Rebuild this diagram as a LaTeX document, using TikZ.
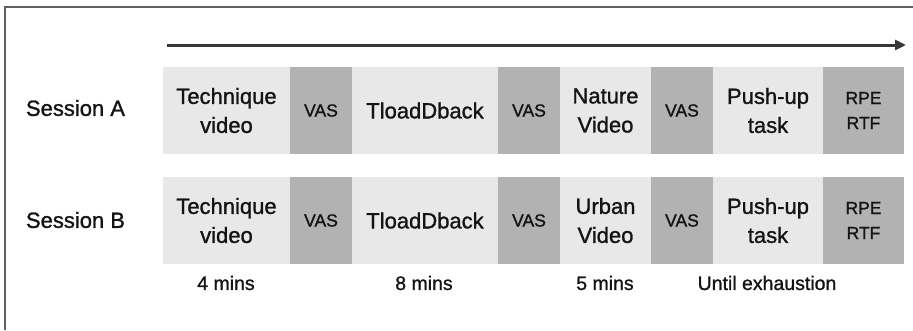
\documentclass[tikz,border=0pt]{standalone}
\usepackage{fontspec}
\setmainfont{Liberation Sans}
\newfontfamily\labelfont{Liberation Sans}[FakeBold=1.2]
\usetikzlibrary{arrows.meta}
\definecolor{boxlight}{HTML}{E8E8E8}
\definecolor{boxdark}{HTML}{B2B2B2}
\definecolor{inkdark}{HTML}{141414}
\definecolor{framegray}{HTML}{606060}
\definecolor{axisgray}{HTML}{383838}
\tikzset{
  cell/.style={inner sep=0pt, align=center, text=inkdark, minimum height=87pt},
  lightcell/.style={cell, fill=boxlight, font=\labelfont\fontsize{22}{29}\selectfont},
  darkcell/.style={cell, fill=boxdark, font=\labelfont\fontsize{17.5}{25}\selectfont},
  rowlabel/.style={inner sep=0pt, text=inkdark, font=\labelfont\fontsize{22}{26}\selectfont},
  durlabel/.style={inner sep=0pt, text=inkdark, font=\labelfont\fontsize{19.5}{22}\selectfont},
  timeline/.style={draw=axisgray, line width=3pt, -{Triangle[length=11pt,width=10pt]}},
  frameline/.style={draw=framegray, line width=1.2pt}
}
\begin{document}
\begin{tikzpicture}[x=1pt,y=-1pt]
\useasboundingbox (0,0) rectangle (913,330);
% outer frame (top and left edges)
\coordinate (fa) at (5,330);
\coordinate (fb) at (5,7);
\coordinate (fc) at (913,7);
\draw[frameline] (fa) -- (fb) -- (fc);
% time axis
\coordinate (ts) at (167,45);
\coordinate (te) at (906,45);
\draw[timeline] (ts) -- (te);
% session labels
\node[rowlabel] (sa) at (75.5,108) {Session A};
\node[rowlabel] (sb) at (75.5,220) {Session B};
% session A
\node[lightcell, minimum width=127pt] (a1) at (226.5,110.5) {Technique\\video};
\node[darkcell,  minimum width=62pt]  (a2) at (321,110.5)   {VAS};
\node[lightcell, minimum width=146pt] (a3) at (425,110.5)   {TloadDback};
\node[darkcell,  minimum width=62pt]  (a4) at (529,110.5)   {VAS};
\node[lightcell, minimum width=91pt]  (a5) at (605.5,110.5) {Nature\\Video};
\node[darkcell,  minimum width=62pt]  (a6) at (682,110.5)   {VAS};
\node[lightcell, minimum width=110pt] (a7) at (768,110.5)   {Push-up\\task};
\node[darkcell,  minimum width=81pt]  (a8) at (863.5,110.5) {RPE\\RTF};
% session B
\node[lightcell, minimum width=127pt] (b1) at (226.5,220.5) {Technique\\video};
\node[darkcell,  minimum width=62pt]  (b2) at (321,220.5)   {VAS};
\node[lightcell, minimum width=146pt] (b3) at (425,220.5)   {TloadDback};
\node[darkcell,  minimum width=62pt]  (b4) at (529,220.5)   {VAS};
\node[lightcell, minimum width=91pt]  (b5) at (605.5,220.5) {Urban\\Video};
\node[darkcell,  minimum width=62pt]  (b6) at (682,220.5)   {VAS};
\node[lightcell, minimum width=110pt] (b7) at (768,220.5)   {Push-up\\task};
\node[darkcell,  minimum width=81pt]  (b8) at (863.5,220.5) {RPE\\RTF};
% durations
\node[durlabel] (d1) at (226,283) {4 mins};
\node[durlabel] (d2) at (424,283) {8 mins};
\node[durlabel] (d3) at (605,283) {5 mins};
\node[durlabel] (d4) at (767,283) {Until exhaustion};
\end{tikzpicture}
\end{document}
